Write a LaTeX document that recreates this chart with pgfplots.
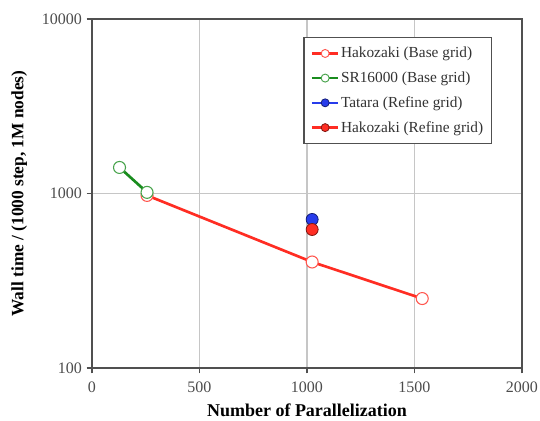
\documentclass[border=0pt]{standalone}
\usepackage{pgfplots}
\pgfplotsset{compat=1.18}
\usepackage{fontspec}
\setmainfont{Liberation Serif}
\definecolor{cred}{RGB}{255,45,35}
\definecolor{cgreen}{RGB}{25,140,30}
\definecolor{cblue}{RGB}{40,60,235}
\definecolor{axgray}{RGB}{80,80,80}
\begin{document}
\begin{tikzpicture}
\begin{axis}[
  at={(0,0)}, anchor=south west,
  scale only axis,
  width=322.5pt, height=261.75pt,
  xmin=0, xmax=2000,
  ymode=log, ymin=100, ymax=10000,
  xtick={0,500,1000,1500,2000},
  ytick={100,1000,10000},
  yticklabels={100,1000,10000},
  xticklabel style={/pgf/number format/1000 sep={}, yshift=-3pt},
  /pgf/number format/assume math mode=true,
  tick label style={font=\fontsize{12}{14}\selectfont, text=black!70},
  minor tick num=0,
  yminorticks=false,
  xtick pos=bottom, ytick pos=left,
  tick align=outside,
  major tick length=4pt,
  axis line style={axgray, line width=1.4pt},
  tick style={axgray, line width=0.8pt},
  xmajorgrids=true, ymajorgrids=true,
  major grid style={gray!45, line width=1.1pt},
  xlabel={Number of Parallelization},
  ylabel={Wall time / (1000 step, 1M nodes)},
  xlabel style={font=\fontsize{13.5}{15}\selectfont\bfseries, at={(axis description cs:0.5,-0.12)}, anchor=center},
  ylabel style={font=\fontsize{13}{15}\selectfont\bfseries, at={(axis description cs:-0.169,0.5)}, anchor=center},
  legend style={at={(rel axis cs:0.93,0.948)}, anchor=north east, draw=axgray, line width=1pt, font=\fontsize{11.5}{13}\selectfont, text=black!80, row sep=5pt, inner xsep=5pt, inner ysep=5pt, nodes={inner xsep=1pt}},
  legend cell align=left,
]
\addplot[cred, line width=2pt, mark=*, mark size=4.5pt, mark options={fill=white, draw=cred!80, line width=0.8pt}, legend image code/.code={\draw[cred, line width=1.8pt] (0pt,0pt) -- (20pt,0pt); \draw[fill=white, draw=cred!80, line width=0.7pt] (10pt,0pt) circle (3pt);}]
  coordinates {(256,975) (1024,405) (1536,250)};
\addlegendentry{Hakozaki (Base grid)}
\addplot[cgreen, line width=2pt, mark=*, mark size=4.5pt, mark options={fill=white, draw=cgreen!80, line width=0.8pt}, legend image code/.code={\draw[cgreen, line width=1.8pt] (0pt,0pt) -- (20pt,0pt); \draw[fill=white, draw=cgreen!80, line width=0.7pt] (10pt,0pt) circle (3pt);}]
  coordinates {(128,1410) (256,1015)};
\addlegendentry{SR16000 (Base grid)}
\addplot[cblue, only marks, mark=*, mark size=4.5pt, mark options={fill=cblue, draw=cblue!50!black, line width=0.6pt}, legend image code/.code={\draw[cblue, line width=1.8pt] (0pt,0pt) -- (20pt,0pt); \draw[fill=cblue, draw=cblue!50!black, line width=0.6pt] (10pt,0pt) circle (3pt);}]
  coordinates {(1024,710)};
\addlegendentry{Tatara (Refine grid)}
\addplot[cred, only marks, mark=*, mark size=4.5pt, mark options={fill=cred, draw=cred!50!black, line width=0.6pt}, legend image code/.code={\draw[cred, line width=1.8pt] (0pt,0pt) -- (20pt,0pt); \draw[fill=cred, draw=cred!50!black, line width=0.6pt] (10pt,0pt) circle (3pt);}]
  coordinates {(1024,622)};
\addlegendentry{Hakozaki (Refine grid)}
\end{axis}
\pgfresetboundingbox
\path (-69pt,-39.75pt) rectangle (336pt,276pt);
\end{tikzpicture}
\end{document}
